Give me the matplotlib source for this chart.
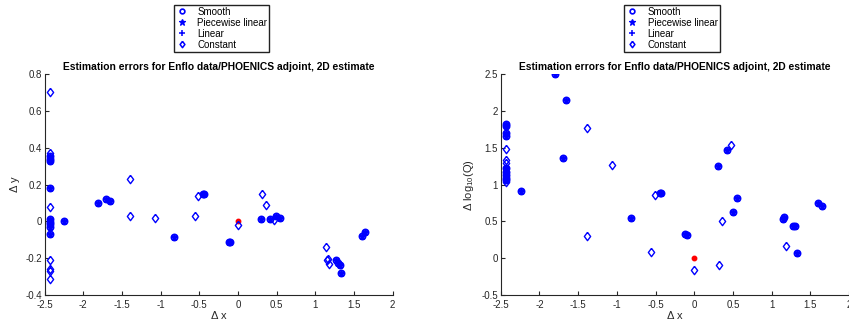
import numpy as np
import matplotlib.pyplot as plt
from matplotlib.lines import Line2D
from matplotlib.ticker import FormatStrFormatter

plt.rcParams['font.family'] = ['Liberation Sans', 'DejaVu Sans']
plt.rcParams['axes.unicode_minus'] = False
plt.rcParams['mathtext.fontset'] = 'custom'
plt.rcParams['mathtext.rm'] = 'Liberation Sans'

TITLE = 'Estimation errors for Enflo data/PHOENICS adjoint, 2D estimate'
METHODS = ['Smooth', 'Piecewise linear', 'Linear', 'Constant']

# left panel: position error (dx, dy)
# smooth / piecewise / linear estimates sit on top of each other
dy_est_x = [-2.434, -2.434, -2.434, -2.434, -2.434, -2.434, -2.434, -2.434, -2.434,
            -2.245, -1.814, -1.702, -1.659, -0.823, -0.455, -0.435, -0.122, -0.105,
            0.302, 0.418, 0.487, 0.547, 1.271, 1.288, 1.323, 1.331, 1.603, 1.642]
dy_est_y = [0.355, 0.340, 0.328, 0.180, 0.011, -0.002, -0.014, -0.029, -0.070,
            0.0, 0.098, 0.120, 0.111, -0.082, 0.149, 0.151, -0.112, -0.110,
            0.011, 0.011, 0.031, 0.020, -0.210, -0.225, -0.239, -0.281, -0.080, -0.058]
dy_const_x = [-2.434, -2.434, -2.434, -2.434, -2.434, -2.434, -2.434, -1.392, -1.392, -1.069,
              -0.560, -0.513, 0.0, 0.310, 0.358, 0.460, 1.142, 1.150, 1.170, 1.180]
dy_const_y = [0.705, 0.373, 0.080, -0.210, -0.261, -0.270, -0.314, 0.230, 0.029, 0.018,
              0.031, 0.141, -0.022, 0.150, 0.092, 0.007, -0.140, -0.210, -0.203, -0.234]

# right panel: dx vs error in log10 of source strength
dq_est_x = [-2.434, -2.434, -2.434, -2.434, -2.434, -2.434, -2.434, -2.434, -2.434,
            -2.245, -1.805, -1.659, -1.693, -0.814, -0.445, -0.430, -0.115, -0.098,
            0.306, 0.422, 0.495, 0.547, 1.150, 1.163, 1.280, 1.300, 1.331, 1.598, 1.646]
dq_est_y = [1.82, 1.80, 1.70, 1.66, 1.22, 1.17, 1.13, 1.09, 1.07,
            0.920, 2.500, 2.157, 1.368, 0.548, 0.884, 0.886, 0.325, 0.317,
            1.255, 1.473, 0.634, 0.820, 0.535, 0.560, 0.444, 0.440, 0.068, 0.757, 0.716]
dq_const_x = [-2.434, -2.434, -2.434, -2.434, -1.392, -1.392, -1.069, -0.556, -0.508,
              0.0, 0.319, 0.362, 0.474, 1.185]
dq_const_y = [1.482, 1.337, 1.291, 1.042, 1.767, 0.299, 1.264, 0.091, 0.856,
              -0.159, -0.095, 0.507, 1.536, 0.168]

x_ticks = np.arange(-2.5, 2.01, 0.5)
dy_ticks = np.arange(-0.4, 0.81, 0.2)
dq_ticks = np.arange(-0.5, 2.51, 0.5)

AX_COL = '#262626'
# matlab style diamond, a bit wider than matplotlib's 'd'
DIAMOND = [(0, 1), (0.75, 0), (0, -1), (-0.75, 0), (0, 1)]


def legend_handles():
    # small legend symbols like the matlab legend
    return [
        Line2D([], [], ls='none', marker='o', color='blue', mfc='none', ms=3.4, mew=1.2),
        Line2D([], [], ls='none', marker='*', color='blue', ms=5.0, mew=0.9),
        Line2D([], [], ls='none', marker='+', color='blue', ms=4.5, mew=1.1),
        Line2D([], [], ls='none', marker=DIAMOND, color='blue', mfc='none', ms=4.6, mew=1.1),
    ]


def draw_panel(fig, rect, ex, ey, cx, cy, yticks, ylabel, legend_x):
    ax = fig.add_axes(rect)
    # true source position
    ax.plot([0], [0], 'o', color='red', ms=3.2, mec='red', zorder=1)
    ax.plot(ex, ey, 'o', color='blue', mfc='none', ms=4.4, mew=1.3, ls='none')
    ax.plot(ex, ey, '*', color='blue', ms=4.8, mew=0.9, ls='none')
    ax.plot(ex, ey, '+', color='blue', ms=4.0, mew=1.0, ls='none')
    ax.plot(cx, cy, marker=DIAMOND, color='blue', mfc='none', ms=6.0,
            mew=1.0, ls='none')

    ax.set_xlim(-2.5, 2)
    ax.set_ylim(yticks[0], yticks[-1])
    ax.set_xticks(x_ticks)
    ax.set_yticks(yticks)
    ax.xaxis.set_major_formatter(FormatStrFormatter('%g'))
    ax.yaxis.set_major_formatter(FormatStrFormatter('%g'))
    for s in ['top', 'right']:
        ax.spines[s].set_visible(False)
    for s in ['left', 'bottom']:
        ax.spines[s].set_color(AX_COL)
        ax.spines[s].set_linewidth(0.8)
    ax.tick_params(direction='in', length=3, width=0.8, colors=AX_COL,
                   labelsize=7, pad=2)
    ax.tick_params(axis='x', pad=3.5)
    ax.set_title(TITLE, fontsize=7.4, fontweight='bold', pad=3)
    ax.set_xlabel('\u0394 x', fontsize=8, color=AX_COL, labelpad=1)
    ax.set_ylabel(ylabel, fontsize=8, color=AX_COL, labelpad=4)

    fig.legend(legend_handles(), METHODS, loc='upper center',
               bbox_to_anchor=(legend_x, 0.985), fontsize=7, frameon=True,
               fancybox=False, edgecolor='#222222', framealpha=1,
               handlelength=1.2, handletextpad=1.0, borderpad=0.2,
               labelspacing=0.1, borderaxespad=0)
    return ax


fig = plt.figure(figsize=(8.49, 3.22), dpi=100)

W = 348.2 / 849
H = 220.7 / 322
B = 27 / 322

draw_panel(fig, [44.5 / 849, B, W, H], dy_est_x, dy_est_y, dy_const_x, dy_const_y,
           dy_ticks, '\u0394 y', 221.7 / 849)
draw_panel(fig, [500.8 / 849, B, W, H], dq_est_x, dq_est_y, dq_const_x, dq_const_y,
           dq_ticks, '\u0394 log$_{10}$(Q)', 672 / 849)

fig.savefig('out.png', dpi=100)
